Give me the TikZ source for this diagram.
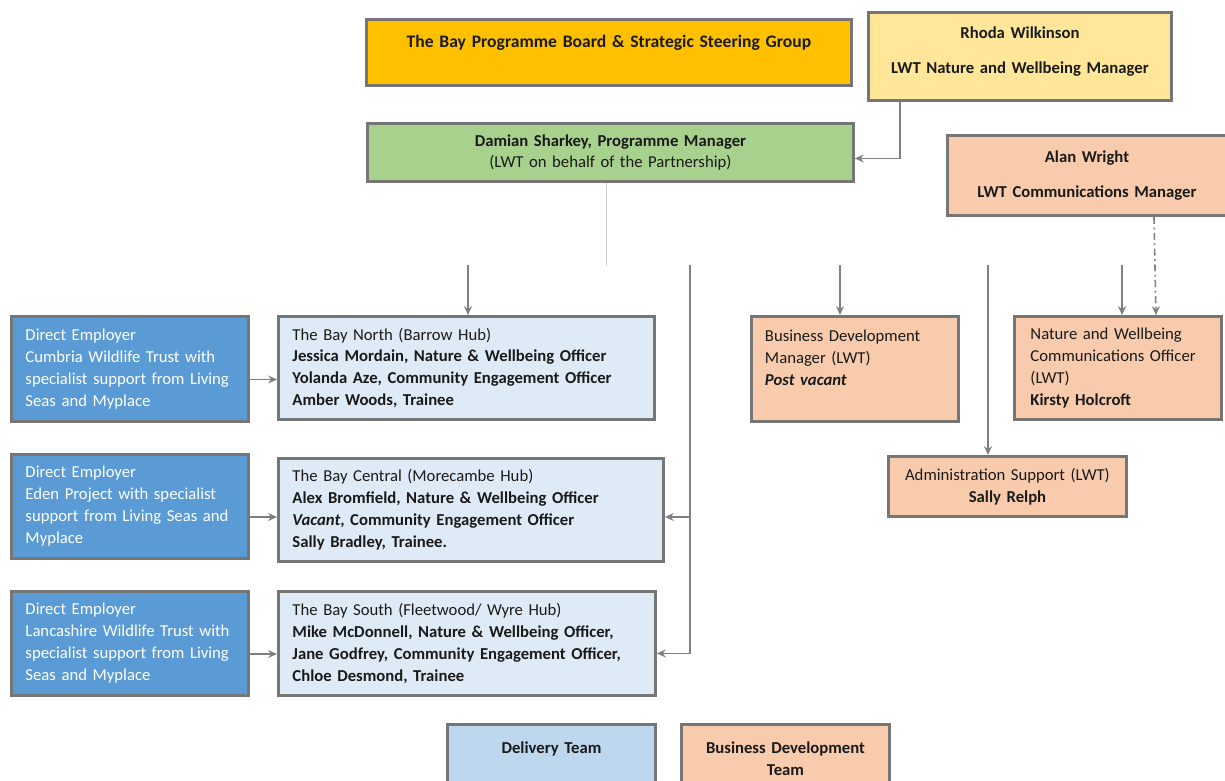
\documentclass[tikz,border=0pt]{standalone}
\usepackage{fontspec}
\setmainfont{Carlito}
\usetikzlibrary{positioning,calc,arrows.meta}
\definecolor{boardfill}{HTML}{FFC000}
\definecolor{leadfill}{HTML}{FFE699}
\definecolor{mgrfill}{HTML}{A9D18E}
\definecolor{bizfill}{HTML}{F8CBAD}
\definecolor{employerfill}{HTML}{5B9BD5}
\definecolor{hubfill}{HTML}{DEEBF7}
\definecolor{keyfill}{HTML}{BDD7EE}
\definecolor{boxline}{HTML}{767676}
\definecolor{arrowgrey}{HTML}{7F7F7F}
\definecolor{faintgrey}{HTML}{D0D0D0}
\definecolor{textgrey}{HTML}{1A1A1A}
\tikzset{
  box/.style={draw=boxline, line width=1.7pt, anchor=north west, inner xsep=0.28cm,
    inner ysep=2pt, text=textgrey, font=\fontsize{9.5}{12.5}\selectfont},
  leftbox/.style={box, align=left},
  midbox/.style={box, align=center},
  conn/.style={draw=arrowgrey, line width=0.9pt, -{Stealth[length=5pt,width=4.5pt]}},
}
\begin{document}
\begin{tikzpicture}[x=0.02cm, y=-0.02cm]
\useasboundingbox (0,0) rectangle (1225,781);
%% top of the chart
\node[midbox, fill=boardfill, minimum width=9.70cm, minimum height=1.32cm, text width=9.1cm,
  font=\fontsize{10}{12.5}\selectfont\bfseries] (board) at (365,18)
  {The Bay Programme Board \& Strategic Steering Group\\ \mbox{}};
\node[midbox, fill=leadfill, minimum width=6.06cm, minimum height=1.76cm, text width=5.5cm,
  font=\fontsize{9.5}{12.5}\selectfont\bfseries] (rhoda) at (867,11)
  {Rhoda Wilkinson\\[7.5pt]LWT Nature and Wellbeing Manager\\[-5pt]\mbox{}};
\node[midbox, fill=mgrfill, minimum width=9.72cm, minimum height=1.16cm, text width=9.1cm] (damian) at (366,122)
  {\textbf{Damian Sharkey, Programme Manager}\\(LWT on behalf of the Partnership)};
\node[midbox, fill=bizfill, minimum width=5.58cm, minimum height=1.60cm, text width=5.0cm,
  font=\fontsize{9.5}{12.5}\selectfont\bfseries] (alan) at (946,134)
  {Alan Wright\\[7.5pt]LWT Communications Manager};
%% employers
\node[leftbox, fill=employerfill, text=white, minimum width=4.74cm, minimum height=2.10cm, text width=4.18cm] (cwt) at (10,315)
  {Direct Employer\\Cumbria Wildlife Trust with\\specialist support from Living\\Seas and Myplace};
\node[leftbox, fill=employerfill, text=white, minimum width=4.74cm, minimum height=2.08cm, text width=4.18cm] (eden) at (10,453)
  {Direct Employer\\Eden Project with specialist\\support from Living Seas and\\Myplace};
\node[leftbox, fill=employerfill, text=white, minimum width=4.74cm, minimum height=2.08cm, text width=4.18cm] (lwt) at (10,590)
  {Direct Employer\\Lancashire Wildlife Trust with\\specialist support from Living\\Seas and Myplace};
%% hubs
\node[leftbox, fill=hubfill, minimum width=7.52cm, minimum height=2.06cm, text width=6.96cm] (north) at (277,315)
  {The Bay North (Barrow Hub)\\\textbf{Jessica Mordain, Nature \& Wellbeing Officer}\\
   \textbf{Yolanda Aze, Community Engagement Officer}\\\textbf{Amber Woods, Trainee}};
\node[leftbox, fill=hubfill, minimum width=7.70cm, minimum height=2.06cm, text width=7.14cm] (central) at (277,457)
  {The Bay Central (Morecambe Hub)\\\textbf{Alex Bromfield, Nature \& Wellbeing Officer}\\
   \textbf{\textit{Vacant}, Community Engagement Officer}\\\textbf{Sally Bradley, Trainee.}};
\node[leftbox, fill=hubfill, minimum width=7.54cm, minimum height=2.08cm, text width=6.98cm] (south) at (277,590)
  {The Bay South (Fleetwood/ Wyre Hub)\\\textbf{Mike McDonnell, Nature \& Wellbeing Officer,}\\
   \textbf{Jane Godfrey, Community Engagement Officer,}\\\textbf{Chloe Desmond, Trainee}};
%% business development
\node[leftbox, fill=bizfill, minimum width=4.14cm, minimum height=2.10cm, text width=3.6cm, inner xsep=0.26cm] (bdm) at (750,315)
  {Business Development\\Manager (LWT)\\\textbf{\textit{Post vacant}}\\ \mbox{}};
\node[leftbox, fill=bizfill, minimum width=4.14cm, minimum height=2.06cm, text width=3.5cm, inner xsep=0.32cm] (nwco) at (1013,315)
  {Nature and Wellbeing\\Communications Officer\\(LWT)\\\textbf{Kirsty Holcroft}};
\node[midbox, fill=bizfill, minimum width=4.72cm, minimum height=1.20cm, text width=4.2cm] (admin) at (887,455)
  {Administration Support (LWT)\\\textbf{Sally Relph}};
%% key
\node[midbox, fill=keyfill, minimum width=4.12cm, minimum height=1.36cm, text width=3.6cm,
  font=\fontsize{9.5}{12.5}\selectfont\bfseries] (keydelivery) at (446,723)
  {Delivery Team\\ \mbox{}};
\node[midbox, fill=bizfill, minimum width=4.14cm, minimum height=1.36cm, text width=3.6cm,
  font=\fontsize{9.5}{12.5}\selectfont\bfseries] (keybiz) at (680,723)
  {Business Development\\Team};
%% connectors
\draw[conn] (rhoda.south west) ++(33,0) |- ([yshift=-0.12cm]damian.east);
\draw[faintgrey, line width=0.6pt] (damian.south) ++(-4,0) -- ++(0,83);
\coordinate (northin) at (468,265);
\coordinate (bdmin) at (840,265);
\coordinate (nwcoin) at (1122,265);
\coordinate (hubline) at (690,265);
\coordinate (adminline) at (988,265);
\draw[conn] (northin) -- (northin |- north.north);
\draw[conn] (bdmin) -- (bdmin |- bdm.north);
\draw[conn] (nwcoin) -- (nwcoin |- nwco.north);
\draw[conn] (adminline) -- (adminline |- admin.north);
\draw[conn] (hubline) |- ([yshift=-0.2cm]south.east);
\draw[conn] (hubline |- central.east) ++(0,7) -- ([yshift=-0.14cm]central.east);
\draw[conn, dash pattern=on 4pt off 2pt on 1pt off 2pt] ($(alan.south)+(67,0)$) -- ($(nwco.north)+(38,0)$);
\foreach \emp/\hub in {cwt/north, eden/central, lwt/south}
  \draw[conn] ([yshift=-0.21cm]\emp.east) -- ([yshift=-0.21cm]\emp.east -| \hub.west);
\end{tikzpicture}
\end{document}
